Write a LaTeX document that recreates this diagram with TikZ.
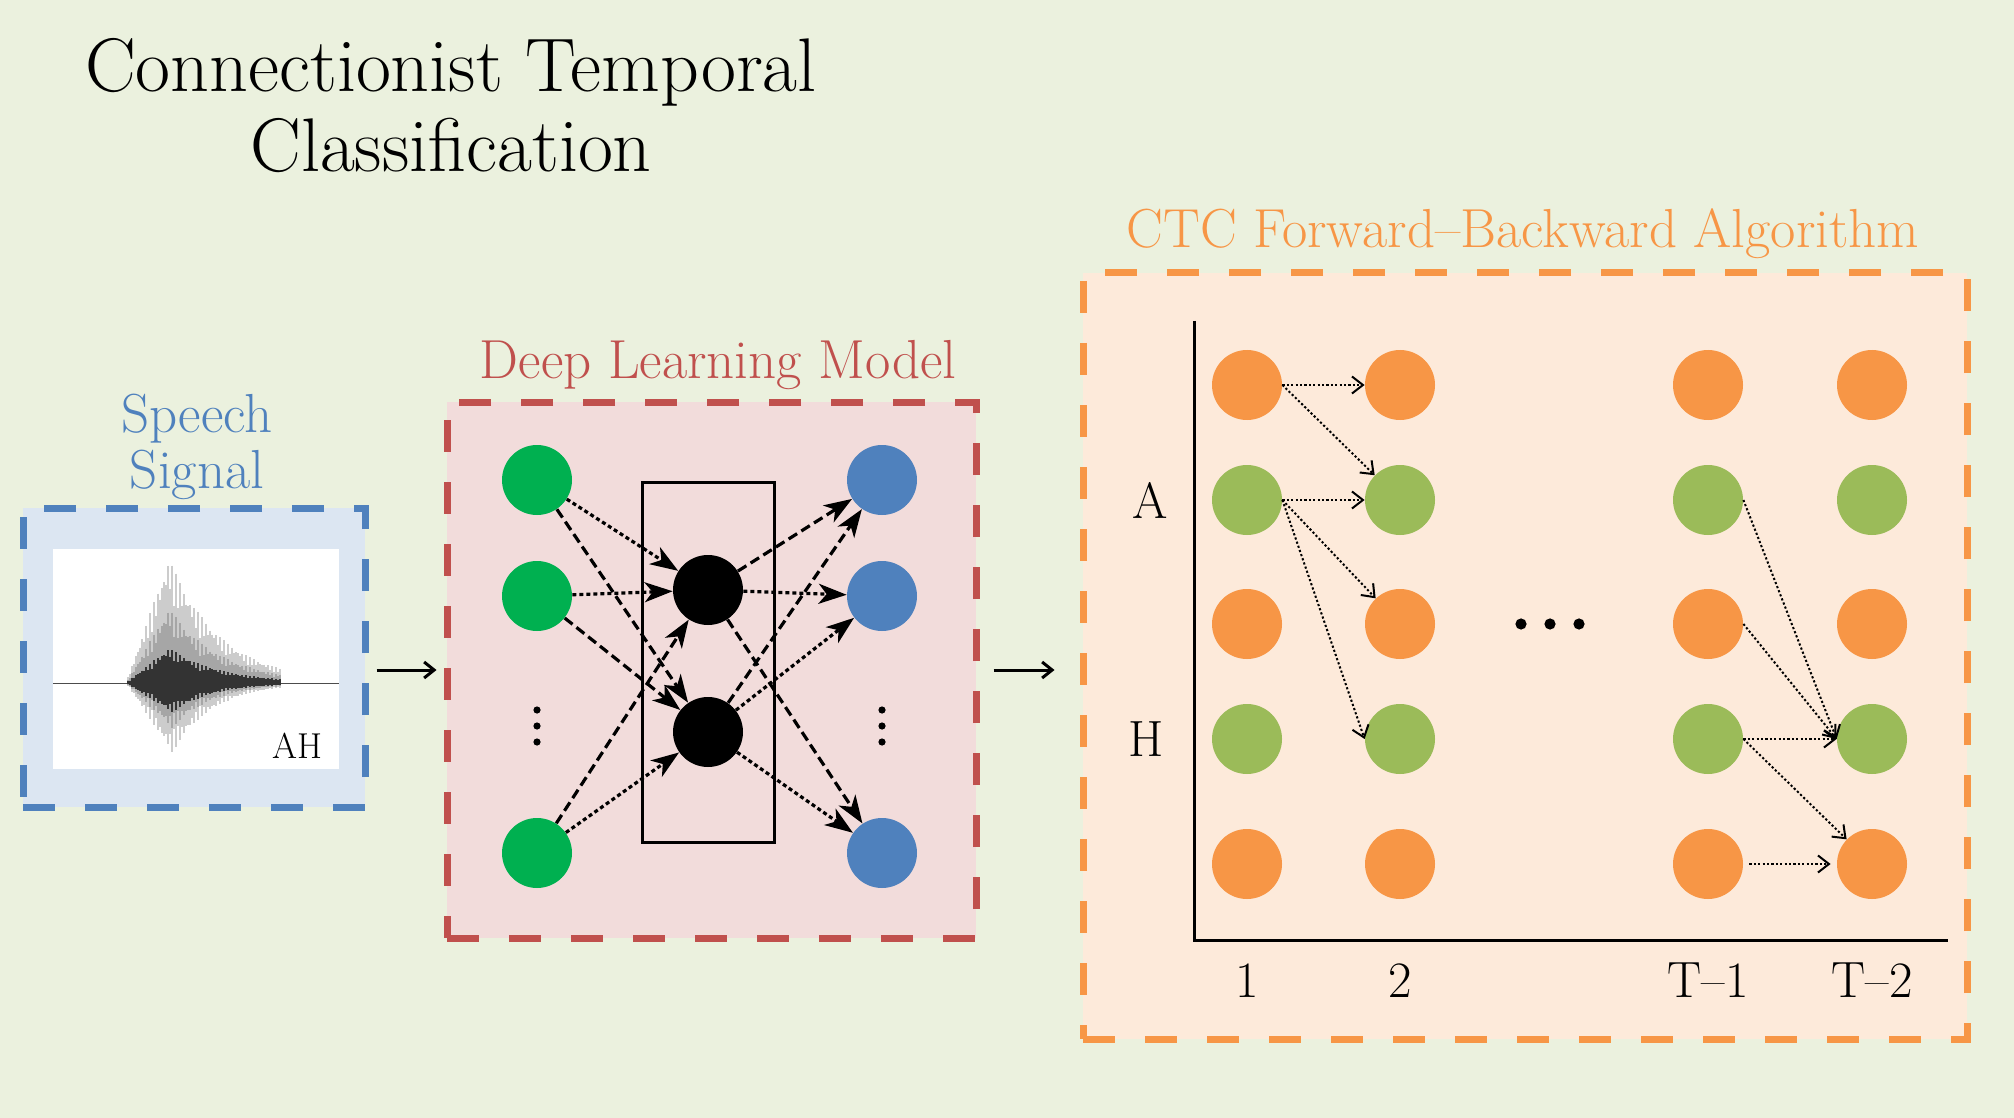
\documentclass[tikz,border=0pt]{standalone}
\usetikzlibrary{arrows.meta}
\definecolor{bgcol}{HTML}{EBF1DE}
\definecolor{spfill}{HTML}{DCE6F2}
\definecolor{spline}{HTML}{4F81BD}
\definecolor{dlfill}{HTML}{F2DCDB}
\definecolor{dlline}{HTML}{C0504D}
\definecolor{ctcfill}{HTML}{FDEADA}
\definecolor{ctcline}{HTML}{F79646}
\definecolor{nngreen}{HTML}{00B050}
\definecolor{nnblue}{HTML}{4F81BD}
\definecolor{ctcgreen}{HTML}{9BBB59}
\definecolor{ctcorange}{HTML}{F79646}

\begin{document}
\begin{tikzpicture}[x=0.5pt, y=-0.5pt,
  >={Straight Barb[length=5pt,width=8pt]},
  panel/.style={rectangle, draw, inner sep=0pt, line width=3.5pt, dash pattern=on 16pt off 15pt},
  neuron/.style={circle, inner sep=0pt, minimum size=35pt},
  dlarrow/.style={-{Stealth[length=14pt,width=10pt,inset=4pt]}, line width=1.6pt},
  longdash/.style={dlarrow, dash pattern=on 5pt off 2.5pt},
  shortdash/.style={dlarrow, dash pattern=on 2pt off 1.5pt},
  flow/.style={->, line width=1.5pt},
  ctcarrow/.style={-{Straight Barb[length=5.5pt,width=8.5pt]}, line width=1pt, dash pattern=on 1.1pt off 1.1pt},
  lbl/.style={font=\fontsize{25.5}{28}\selectfont}]
\fill[bgcol] (0,0) rectangle (2014,1118);
\useasboundingbox (0,0) rectangle (2014,1118);

% title
\node[font=\fontsize{38}{40}\selectfont, align=center, anchor=base] (title) at (451,172) {Connectionist Temporal\\Classification};

% speech signal
\node[panel, draw=spline, fill=spfill, minimum width=171pt, minimum height=149.5pt] (speechbox) at (194,657.5) {};
\node[text=spline, font=\fontsize{27.5}{28}\selectfont, align=center, anchor=base] (speechlbl) at (197,488) {Speech\\Signal};
\fill[white] (53,549) rectangle (339,769);
\draw[black!70, line width=0.5pt] (53,683) -- (339,683);
\foreach \i in {0,...,77}{
  \pgfmathsetmacro\wx{126+2*\i}
  \pgfmathsetmacro\wt{\i/77}
  \pgfmathsetmacro\wj{0.65+0.35*abs(sin(\i*97.3))}
  \pgfmathsetmacro\wup{\wj*(\wt<0.28 ? 125*\wt/0.28 : 125*exp(-3*(\wt-0.28)))}
  \pgfmathsetmacro\wdn{\wj*(\wt<0.3 ? 70*\wt/0.3 : 70*exp(-3.8*(\wt-0.3)))}
  \draw[gray!40, line width=0.9pt] (\wx,{683-\wup}) -- (\wx,{683+\wdn});
  \draw[gray!70, line width=0.9pt] (\wx,{683-0.6*\wup}) -- (\wx,{683+0.65*\wdn});
  \draw[black!80, line width=0.9pt] (\wx,{683-0.28*\wup}) -- (\wx,{683+0.42*\wdn});
}
\node[font=\fontsize{18}{20}\selectfont, anchor=base east, inner sep=0pt] (ah) at (323,758) {AH};

% deep learning model
\node[panel, draw=dlline, fill=dlfill, minimum width=264.5pt, minimum height=268pt] (dlbox) at (711.5,670) {};
\node[text=dlline, font=\fontsize{27.5}{30}\selectfont, anchor=base] (dllbl) at (718,379) {Deep Learning Model};
\node[draw, line width=1.5pt, minimum width=66pt, minimum height=180pt, inner sep=0pt] (hidden) at (708,662) {};
\foreach \n/\y in {1/480,2/596,3/853}{
  \node[neuron, fill=nngreen] (g\n) at (537,\y) {};
  \node[neuron, fill=nnblue] (o\n) at (882,\y) {};
}
\node[neuron, fill=black] (k1) at (708,590) {};
\node[neuron, fill=black] (k2) at (708,732) {};
% vertical dots
\foreach \y in {710,726,742}{
  \fill (537,\y) circle (1.8pt);
  \fill (882,\y) circle (1.8pt);
}
% input to hidden
\draw[shortdash] (g1) -- (k1);
\draw[longdash] (g1) -- (k2);
\draw[shortdash] (g2) -- (k1);
\draw[longdash] (g2) -- (k2);
\draw[longdash] (g3) -- (k1);
\draw[shortdash] (g3) -- (k2);
% hidden to output
\draw[longdash] (k1) -- (o1);
\draw[shortdash] (k1) -- (o2);
\draw[longdash] (k1) -- (o3);
\draw[longdash] (k2) -- (o1);
\draw[shortdash] (k2) -- (o2);
\draw[shortdash] (k2) -- (o3);

% ctc forward-backward
\node[panel, draw=ctcline, fill=ctcfill, minimum width=442pt, minimum height=383pt] (ctcbox) at (1525,656) {};
\node[text=ctcline, font=\fontsize{27.5}{30}\selectfont, anchor=base] (ctclbl) at (1523,248) {CTC Forward--Backward Algorithm};
\draw[line width=1.5pt] (1194,321) |- (1948,940);
\foreach \cx/\t [count=\c] in {1247/1,1400/2,1708/T--1,1872/T--2}{
  \foreach \ry/\col [count=\r] in {385/ctcorange,500/ctcgreen,624/ctcorange,739/ctcgreen,864/ctcorange}
    \node[neuron, fill=\col] (c\r-\c) at (\cx,\ry) {};
  \node[lbl, anchor=base] (t\c) at (\cx,997) {\t};
}
\node[lbl] (la) at (1150,500) {A};
\node[lbl] (lh) at (1146,739) {H};
\foreach \x in {1521,1550,1579}
  \fill (\x,624) circle (2.8pt);
% transitions
\draw[ctcarrow] (c1-1.east) -- (c1-2);
\draw[ctcarrow] (c1-1.east) -- (c2-2);
\draw[ctcarrow] (c2-1.east) -- (c2-2);
\draw[ctcarrow] (c2-1.east) -- (c3-2);
\draw[ctcarrow] (c2-1.east) -- (c4-2.west);
\draw[ctcarrow] (c2-3.east) -- (c4-4.west);
\draw[ctcarrow] (c3-3.east) -- (c4-4.west);
\draw[ctcarrow] (c4-3.east) -- (c4-4);
\draw[ctcarrow] (c4-3.east) -- (c5-4);
\draw[ctcarrow, shorten <=3pt, shorten >=3pt] (c5-3) -- (c5-4);

% flow between panels
\draw[flow, shorten <=4pt, shorten >=3.5pt] (speechbox.east |- dlbox.west) -- (dlbox.west);
\draw[flow, shorten <=7pt, shorten >=12.5pt] (dlbox.east) -- (dlbox.east -| ctcbox.west);
\end{tikzpicture}
\end{document}
